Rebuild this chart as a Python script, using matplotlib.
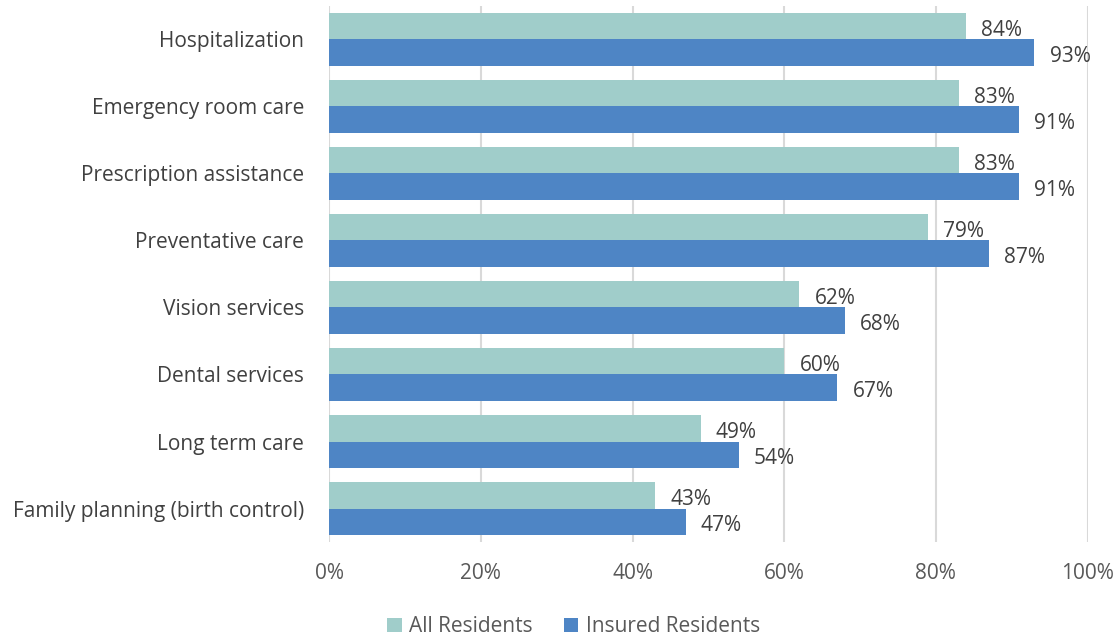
import matplotlib.pyplot as plt
import numpy as np

plt.rcParams['font.family'] = ['Open Sans', 'DejaVu Sans']

kategorie = ["Hospitalization", "Emergency room care", "Prescription assistance",
             "Preventative care", "Vision services", "Dental services",
             "Long term care", "Family planning (birth control)"]
wszyscy = [84, 83, 83, 79, 62, 60, 49, 43]
ubezpieczeni = [93, 91, 91, 87, 68, 67, 54, 47]
serie = ["All Residents", "Insured Residents"]

kolor_all = "#A0CDCA"
kolor_ins = "#4E85C5"
tekst = "#404040"
fs = 15

fig = plt.figure(figsize=(11.2, 6.37), dpi=100)
ax = fig.add_axes([0.294, 0.149, 0.677, 0.842])

y = np.arange(len(kategorie))
h = 0.395
ax.barh(y - h / 2, wszyscy, height=h, color=kolor_all, label=serie[0], zorder=2)
ax.barh(y + h / 2, ubezpieczeni, height=h, color=kolor_ins, label=serie[1], zorder=2)

# etykiety wartości przy końcach słupków
for i in range(len(kategorie)):
    ax.text(wszyscy[i] + 2, y[i] - h / 2 + 0.06, f"{wszyscy[i]}%", va="center", ha="left",
            fontsize=fs, color=tekst)
    ax.text(ubezpieczeni[i] + 2, y[i] + h / 2 + 0.06, f"{ubezpieczeni[i]}%", va="center", ha="left",
            fontsize=fs, color=tekst)

ax.set_xlim(0, 100)
ax.set_ylim(len(kategorie) - 0.5, -0.5)
ax.set_yticks(y)
ax.set_yticklabels(kategorie, fontsize=fs, color=tekst)
ax.set_xticks(range(0, 101, 20))
ax.set_xticklabels([f"{v}%" for v in range(0, 101, 20)], fontsize=fs, color="#595959")
ax.tick_params(length=0)
ax.tick_params(axis="y", pad=18)
ax.tick_params(axis="x", pad=15)
for s in ax.spines.values():
    s.set_visible(False)
ax.grid(axis="x", color="#D9D9D9", linewidth=1.5, zorder=0)
ax.set_axisbelow(True)

fig.legend(loc="center", bbox_to_anchor=(0.512, 0.016), ncol=2, frameon=False,
           fontsize=fs, labelcolor="#595959", handlelength=0.7, handleheight=0.7,
           handletextpad=0.35, columnspacing=1.5)

fig.savefig("out.png")
